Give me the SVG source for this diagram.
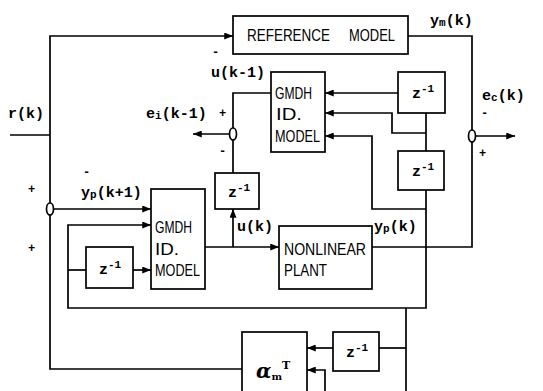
<svg xmlns="http://www.w3.org/2000/svg" width="543" height="391" viewBox="0 0 543 391">
<defs>
<marker id="ah" viewBox="0 0 10 8" refX="10" refY="4" markerWidth="9" markerHeight="7" markerUnits="userSpaceOnUse" orient="auto">
<path d="M0,0 L10,4 L0,8 Z" fill="#000"/>
</marker>
<style>
.box{fill:#fff;stroke:#000;stroke-width:1.7}
.ln{fill:none;stroke:#000;stroke-width:1.7}
.ar{fill:none;stroke:#000;stroke-width:1.7;marker-end:url(#ah)}
.sj{fill:#fff;stroke:#000;stroke-width:1.7}
.bt{font-family:"Liberation Sans",Arial,sans-serif;font-size:17px;fill:#000}
.lb{font-family:"Liberation Mono","DejaVu Sans Mono",monospace;font-size:15px;font-weight:bold;fill:#000}
.sg{font-family:"Liberation Mono","DejaVu Sans Mono",monospace;font-size:12px;font-weight:bold;fill:#000}
</style>
</defs>
<rect width="543" height="391" fill="#fff"/>

<g id="connectors">
<path class="ln" d="M10,135 H50"/>
<path class="ar" d="M50,203 V36 H233"/>
<path class="ln" d="M242,369 H50 V215"/>
<path class="ar" d="M53.5,209 H151"/>
<path class="ln" d="M408,36 H472 V130"/>
<path class="ln" d="M372,247 H472 V142"/>
<path class="ar" d="M475.5,136 H515"/>
<path class="ln" d="M271,93 H233 V128"/>
<path class="ar" d="M229.5,134 H193"/>
<path class="ln" d="M233,173 V140"/>
<path class="ar" d="M205,247 H279"/>
<path class="ar" d="M233,247 V209"/>
<path class="ar" d="M398,93 H325"/>
<path class="ln" d="M426,151 V113"/>
<path class="ar" d="M426,133 H392 V113 H325"/>
<path class="ar" d="M426,209 H372 V136 H325"/>
<path class="ar" d="M426,190 V308 H68 V225 H151"/>
<path class="ln" d="M68,270 H86"/>
<path class="ar" d="M133,270 H151"/>
<path class="ln" d="M406,308 V391"/>
<path class="ln" d="M406,348 H379"/>
<path class="ar" d="M333,348 H307"/>
<path class="ar" d="M325,391 V370 H307"/>
</g>

<g id="ref-model">
<rect class="box" x="233" y="16" width="175" height="38"/>
<text class="bt" x="247" y="41" textLength="83" lengthAdjust="spacingAndGlyphs">REFERENCE</text>
<text class="bt" x="349" y="41" textLength="46" lengthAdjust="spacingAndGlyphs">MODEL</text>
</g>

<g id="gmdh1">
<rect class="box" x="271" y="72" width="54" height="80"/>
<text class="bt" x="275" y="99" textLength="37" lengthAdjust="spacingAndGlyphs">GMDH</text>
<text class="bt" x="276" y="120" textLength="26" lengthAdjust="spacingAndGlyphs">ID.</text>
<text class="bt" x="275" y="142" textLength="45" lengthAdjust="spacingAndGlyphs">MODEL</text>
</g>

<g id="gmdh2">
<rect class="box" x="151" y="189" width="54" height="100"/>
<text class="bt" x="155" y="233" textLength="37" lengthAdjust="spacingAndGlyphs">GMDH</text>
<text class="bt" x="155" y="255" textLength="24" lengthAdjust="spacingAndGlyphs">ID.</text>
<text class="bt" x="155" y="276" textLength="45" lengthAdjust="spacingAndGlyphs">MODEL</text>
</g>

<g id="plant">
<rect class="box" x="279" y="226" width="93" height="63"/>
<text class="bt" x="284" y="255" textLength="82" lengthAdjust="spacingAndGlyphs">NONLINEAR</text>
<text class="bt" x="284" y="276" textLength="43" lengthAdjust="spacingAndGlyphs">PLANT</text>
</g>

<g id="alpha">
<rect class="box" x="242" y="332" width="65" height="70"/>
<text x="256" y="378" font-family="'DejaVu Serif',serif" font-style="italic" font-weight="bold" font-size="20">α<tspan font-size="10" font-style="normal" dy="2">m</tspan><tspan font-size="11" font-style="normal" dy="-11">T</tspan></text>
</g>

<g id="z-upper">
<rect class="box" x="398" y="72" width="47" height="41"/>
<text class="lb" x="412" y="98">z<tspan font-size="11" dy="-6">-1</tspan></text>
</g>
<g id="z-lower">
<rect class="box" x="398" y="151" width="46" height="39"/>
<text class="lb" x="412" y="176">z<tspan font-size="11" dy="-6">-1</tspan></text>
</g>
<g id="z-middle">
<rect class="box" x="215" y="173" width="44" height="36"/>
<text class="lb" x="228" y="197">z<tspan font-size="11" dy="-6">-1</tspan></text>
</g>
<g id="z-left">
<rect class="box" x="86" y="247" width="47" height="41"/>
<text class="lb" x="99" y="274">z<tspan font-size="11" dy="-6">-1</tspan></text>
</g>
<g id="z-bottom">
<rect class="box" x="333" y="332" width="46" height="39"/>
<text class="lb" x="346" y="357">z<tspan font-size="11" dy="-6">-1</tspan></text>
</g>

<g id="sum-left"><ellipse class="sj" cx="50" cy="209" rx="3.5" ry="6"/></g>
<g id="sum-ei"><ellipse class="sj" cx="233" cy="134" rx="3.5" ry="6"/></g>
<g id="sum-ec"><ellipse class="sj" cx="472" cy="136" rx="3.5" ry="6"/></g>

<g id="labels">
<text class="lb" x="8" y="118">r(k)</text>
<text class="lb" x="146" y="118">e<tspan font-size="11" dy="1">i</tspan><tspan dy="-1">(k-1)</tspan></text>
<text class="sg" x="219" y="117">+</text>
<text class="sg" x="219" y="155">-</text>
<text class="sg" x="212" y="56">-</text>
<text class="lb" x="211" y="77">u(k-1)</text>
<text class="lb" x="430" y="25">y<tspan font-size="11" dy="1">m</tspan><tspan dy="-1">(k)</tspan></text>
<text class="lb" x="482" y="100">e<tspan font-size="11" dy="1">c</tspan><tspan dy="-1">(k)</tspan></text>
<text class="sg" x="481" y="117">-</text>
<text class="sg" x="479" y="157">+</text>
<text class="sg" x="83" y="176">-</text>
<text class="lb" x="81" y="197">y<tspan font-size="11" dy="1">p</tspan><tspan dy="-1">(k+1)</tspan></text>
<text class="sg" x="28" y="193">+</text>
<text class="sg" x="28" y="252">+</text>
<text class="lb" x="237" y="231">u(k)</text>
<text class="lb" x="374" y="231">y<tspan font-size="11" dy="1">p</tspan><tspan dy="-1">(k)</tspan></text>
</g>
</svg>
